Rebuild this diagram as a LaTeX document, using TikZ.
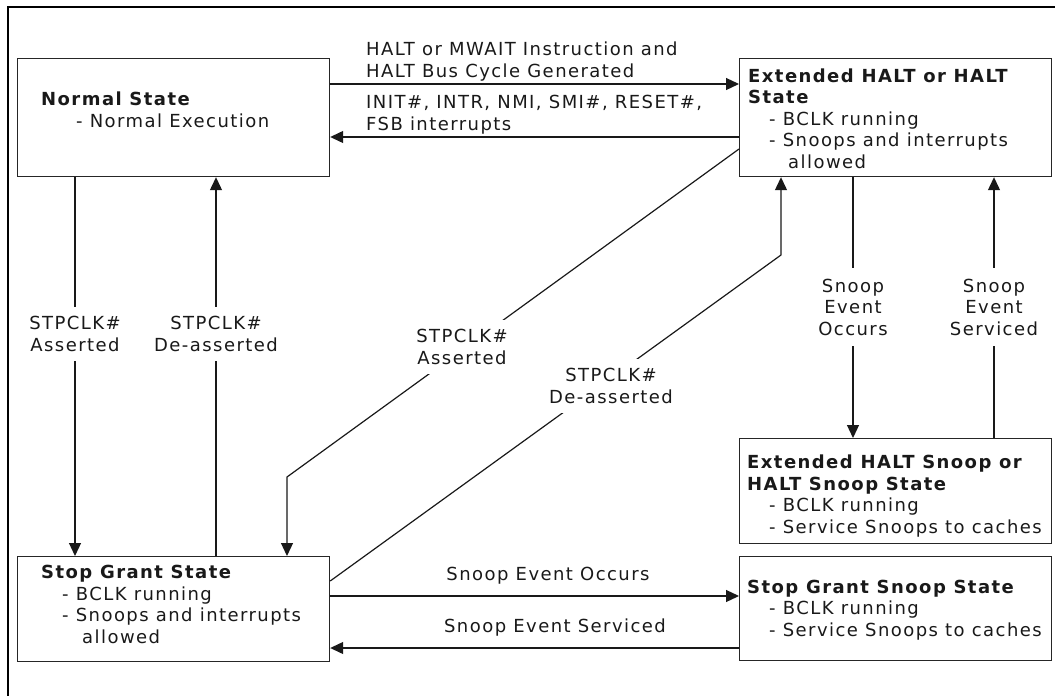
\documentclass[tikz,border=0pt]{standalone}
\usepackage{fontspec}
\setmainfont{DejaVu Sans}[LetterSpace=8]
\usetikzlibrary{arrows.meta}
\begin{document}
\begin{tikzpicture}[x=1pt,y=-1pt,
  every node/.style={font=\fontsize{18}{21.5}\selectfont, text=black!90},
  box/.style={draw=black!85, line width=1.2pt, rectangle, inner sep=0pt, anchor=north west, minimum width=312pt},
  txt/.style={align=left, inner sep=0pt, anchor=base west},
  lbl/.style={align=center, fill=white, inner xsep=3pt, inner ysep=9pt},
  conn/.style={draw=black!90, line width=1.2pt},
  arr/.style={conn, -{Triangle[length=13pt,width=12pt]}},
  frame/.style={draw=black, line width=2pt}
]
\useasboundingbox (0,0) rectangle (1055,696);
\coordinate (fa) at (8,696);
\coordinate (fb) at (8,7);
\coordinate (fc) at (1055,7);
\draw[frame] (fa) -- (fb) -- (fc);

% boxes
\node[box, minimum height=118pt] (normal)  at (17,58)  {};
\node[box, minimum height=118pt] (ehalt)   at (739,58) {};
\node[box, minimum height=105pt] (ehsnoop) at (739,438) {};
\node[box, minimum height=105pt] (sg)      at (17,556) {};
\node[box, minimum height=104pt] (sgsnoop) at (739,556) {};

% box texts (anchor = baseline of last line)
\node[txt] (normalT) at (41,127) {\textbf{Normal State}\\\hspace*{35pt}- Normal Execution};
\node[txt] (ehaltT) at (748,168) {\textbf{Extended HALT or HALT}\\\textbf{State}\\\hspace*{21pt}- BCLK running\\\hspace*{21pt}- Snoops and interrupts\\\hspace*{40pt}allowed};
\node[txt] (ehsnoopT) at (747,533) {\textbf{Extended HALT Snoop or}\\\textbf{HALT Snoop State}\\\hspace*{22pt}- BCLK running\\\hspace*{22pt}- Service Snoops to caches};
\node[txt] (sgT) at (41,643) {\textbf{Stop Grant State}\\\hspace*{21pt}- BCLK running\\\hspace*{21pt}- Snoops and interrupts\\\hspace*{41pt}allowed};
\node[txt] (sgsnoopT) at (747,636) {\textbf{Stop Grant Snoop State}\\\hspace*{22pt}- BCLK running\\\hspace*{22pt}- Service Snoops to caches};

% helper coordinates
\coordinate (r1) at (0,84);
\coordinate (r2) at (0,137);
\coordinate (r3) at (0,596);
\coordinate (r4) at (0,648);
\coordinate (r5) at (0,149);
\coordinate (r6) at (0,581);
\coordinate (c1) at (75,0);
\coordinate (c2) at (216,0);
\coordinate (c3) at (853,0);
\coordinate (c4) at (994,0);
\coordinate (k1) at (287,477);
\coordinate (k2) at (781,255);

% connectors
\draw[arr] (normal.east |- r1) -- (ehalt.west |- r1);
\draw[arr] (ehalt.west |- r2) -- (normal.east |- r2);
\draw[arr] (normal.south -| c1) -- (sg.north -| c1);
\draw[arr] (sg.north -| c2) -- (normal.south -| c2);
\draw[arr] (ehalt.west |- r5) -- (k1) -- (sg.north -| k1);
\draw[arr] (sg.east |- r6) -- (k2) -- (ehalt.south -| k2);
\draw[arr] (ehalt.south -| c3) -- (ehsnoop.north -| c3);
\draw[arr] (ehsnoop.north -| c4) -- (ehalt.south -| c4);
\draw[arr] (sg.east |- r3) -- (sgsnoop.west |- r3);
\draw[arr] (sgsnoop.west |- r4) -- (sg.east |- r4);

% connector labels
\node[txt] (l1) at (366,77) {HALT or MWAIT Instruction and\\HALT Bus Cycle Generated};
\node[txt] (l2) at (366,130) {INIT\#, INTR, NMI, SMI\#, RESET\#,\\FSB interrupts};
\node[lbl] (l3) at (75,334) {STPCLK\#\\Asserted};
\node[lbl] (l4) at (216,334) {STPCLK\#\\De-asserted};
\node[lbl] (l5) at (462,347) {STPCLK\#\\Asserted};
\node[lbl] (l6) at (611,386) {STPCLK\#\\De-asserted};
\node[lbl, inner ysep=11pt] (l7) at (853,307) {Snoop\\Event\\Occurs};
\node[lbl, inner ysep=11pt] (l8) at (994,307) {Snoop\\Event\\Serviced};
\node[anchor=base, inner sep=0pt] (l9) at (548,580) {Snoop Event Occurs};
\node[anchor=base, inner sep=0pt] (l10) at (555,632) {Snoop Event Serviced};
\end{tikzpicture}
\end{document}
